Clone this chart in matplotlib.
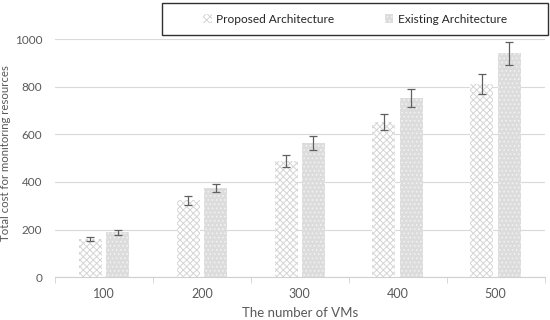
import numpy as np
import matplotlib.pyplot as plt
from matplotlib.patches import Rectangle

plt.rcParams['font.family'] = ['Lato', 'DejaVu Sans']
plt.rcParams['hatch.linewidth'] = 0.7

vms = ["100", "200", "300", "400", "500"]
proposed = [160, 323, 487, 651, 811]
proposed_err = [8, 18, 26, 33, 42]
existing = [189, 374, 563, 752, 941]
existing_err = [10, 18, 28, 38, 48]

txt = '#595959'
x = np.arange(len(vms))
w = 0.235

fig = plt.figure(figsize=(5.5, 3.2), dpi=100)
ax = fig.add_axes([0.1, 0.134, 0.89, 0.744])

ax.bar(x - 0.14, proposed, w, color='white', edgecolor='#d4d4d4', hatch='xxxxx',
       linewidth=0, yerr=proposed_err, capsize=3,
       error_kw=dict(ecolor='#606060', elinewidth=0.9, capthick=0.9),
       label='Proposed Architecture', zorder=3)
ax.bar(x + 0.14, existing, w, color='#dcdcdc', edgecolor='#f2f2f2', hatch='....',
       linewidth=0, yerr=existing_err, capsize=3,
       error_kw=dict(ecolor='#606060', elinewidth=0.9, capthick=0.9),
       label='Existing Architecture', zorder=3)

ax.set_xlim(-0.5, 4.5)
ax.set_ylim(0, 1000)
ax.set_yticks(range(0, 1001, 200))
ax.set_xticks(x)
ax.set_xticklabels(vms)
ax.set_xticks(np.arange(-0.5, 5, 1), minor=True)
ax.tick_params(axis='x', which='major', length=0, colors=txt, labelsize=9, pad=8)
ax.tick_params(axis='x', which='minor', length=4, color='#d0d0d0', direction='out')
ax.tick_params(axis='y', length=0, colors=txt, labelsize=8.5, pad=9)
ax.grid(axis='y', color='#d9d9d9', linewidth=0.8, zorder=0)
for s in ['top', 'right', 'left']:
    ax.spines[s].set_visible(False)
ax.spines['bottom'].set_color('#d0d0d0')

ax.set_xlabel('The number of VMs', color=txt, fontsize=9.5, labelpad=5)
ax.set_ylabel('Total cost for monitoring resources', color=txt, fontsize=8.2)
ax.yaxis.set_label_coords(-0.09, 0.52)

# legend box above the plot
fig.add_artist(Rectangle((0.295, 0.89), 0.701, 0.1, transform=fig.transFigure,
                         fill=False, edgecolor='#303030', linewidth=1.0))
leg = fig.legend(loc='center', bbox_to_anchor=(0.295, 0.89, 0.701, 0.1),
                 ncol=2, frameon=False, fontsize=8.6, columnspacing=4.2,
                 handlelength=0.7, handleheight=0.7, handletextpad=0.4,
                 labelcolor='#262626')

fig.savefig('out.png', dpi=100)
